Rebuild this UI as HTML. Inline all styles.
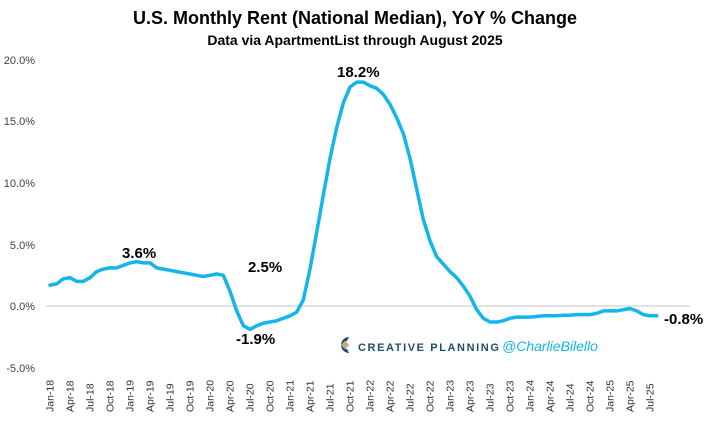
<!DOCTYPE html><html><head><meta charset="utf-8"><style>
body{margin:0;background:#fff;font-family:"Liberation Sans",sans-serif}
</style></head><body>
<svg id="s" width="711" height="419" xmlns="http://www.w3.org/2000/svg" font-family="Liberation Sans, sans-serif">
<text x="355" y="24" text-anchor="middle" font-size="18" font-weight="bold" fill="#000">U.S. Monthly Rent (National Median), YoY % Change</text>
<text x="355" y="45" text-anchor="middle" font-size="14" font-weight="bold" fill="#000">Data via ApartmentList through August 2025</text>
<line x1="46" y1="306" x2="690" y2="306" stroke="#d9d9d9" stroke-width="1.5"/>
<g font-size="11" fill="#404040" text-anchor="end">
<text x="35" y="64">20.0%</text><text x="35" y="125">15.0%</text><text x="35" y="187">10.0%</text>
<text x="35" y="249">5.0%</text><text x="35" y="310">0.0%</text><text x="35" y="372">-5.0%</text>
</g>
<g id="xl" font-size="10.5" fill="#333"></g>
<polyline id="ln" fill="none" stroke="#13b5ea" stroke-width="3.5" stroke-linejoin="round" stroke-linecap="round"/>
<g font-size="15" font-weight="bold" fill="#000">
<text x="122" y="258">3.6%</text><text x="248" y="272">2.5%</text><text x="236" y="344">-1.9%</text>
<text x="337" y="77">18.2%</text><text x="664" y="324">-0.8%</text>
</g>
<g transform="translate(337,336)">
<path d="M12 1 A8 8 0 1 0 12 17 L10 13 A4 4 0 1 1 10 5 Z" fill="#1f4e6b"/>
<rect x="5" y="6" width="6" height="6" fill="#c8a97a" transform="rotate(45 8 9)"/>
</g>
<text x="358" y="351" font-size="11" font-weight="bold" fill="#1f4e6b" letter-spacing="1.6">CREATIVE PLANNING</text>
<text x="502" y="351" font-size="14" font-style="italic" fill="#13b5ea">@CharlieBilello</text>
</svg>
<script>
var d=[1.7,1.8,2.2,2.3,2.0,2.0,2.3,2.8,3.0,3.1,3.1,3.3,
3.5,3.6,3.5,3.5,3.1,3.0,2.9,2.8,2.7,2.6,2.5,2.4,
2.5,2.6,2.5,1.2,-0.4,-1.6,-1.9,-1.6,-1.4,-1.3,-1.2,-1.0,
-0.8,-0.5,0.5,3.0,6.0,9.0,12.0,14.5,16.5,17.8,18.2,18.2,
17.9,17.7,17.2,16.4,15.3,14.0,12.0,9.5,7.0,5.3,4.0,3.4,
2.8,2.3,1.6,0.8,-0.3,-1.0,-1.3,-1.3,-1.2,-1.0,-0.9,-0.9,
-0.9,-0.85,-0.8,-0.8,-0.8,-0.75,-0.75,-0.7,-0.7,-0.7,-0.6,-0.4,
-0.4,-0.4,-0.3,-0.2,-0.4,-0.7,-0.8,-0.8];
var X=function(i){return 50+i*6.667},Y=function(v){return 306-v*12.3};
document.getElementById('ln').setAttribute('points',d.map(function(v,i){return X(i).toFixed(1)+','+Y(v).toFixed(1)}).join(' '));
var m=['Jan','Apr','Jul','Oct'],g=document.getElementById('xl'),h='';
for(var k=0;k<31;k++){var yr=18+Math.floor(k/4),x=X(k*3)+3.5;
h+='<text transform="translate('+x.toFixed(1)+',412) rotate(-90)">'+m[k%4]+'-'+yr+'</text>';}
g.innerHTML=h;
</script>
</body></html>
